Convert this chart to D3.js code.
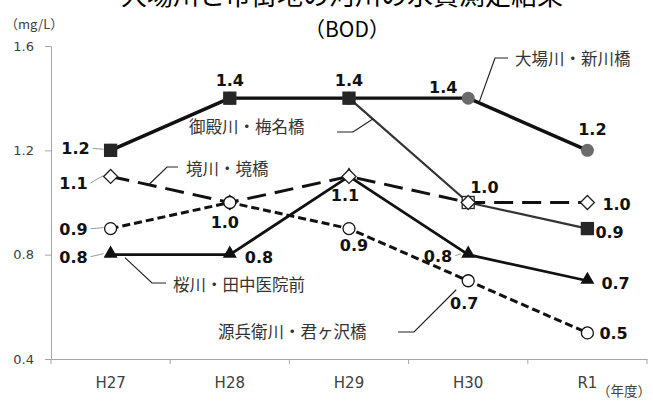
<!DOCTYPE html>
<html><head><meta charset="utf-8">
<script src="https://cdn.jsdelivr.net/npm/d3@7"></script>
<style>html,body{margin:0;padding:0;background:#fff;} svg{display:block;}</style>
</head><body>
<svg id="chart" width="653" height="401"></svg>
<script>
// ---------- data ----------
const categories = ["H27", "H28", "H29", "H30", "R1"];
const seriesNames = ["大場川・新川橋", "御殿川・梅名橋", "境川・境橋", "源兵衛川・君ヶ沢橋", "桜川・田中医院前"];
const obaValues    = [1.2, 1.4, 1.4, 1.4, 1.2];
const gotenValues  = [1.2, 1.4, 1.4, 1.0, 0.9];
const sakaiValues  = [1.1, 1.0, 1.1, 1.0, 1.0];
const genbeiValues = [0.9, 1.0, 0.9, 0.7, 0.5];
const sakuraValues = [0.8, 0.8, 1.1, 0.8, 0.7];
const yTicks = [0.4, 0.8, 1.2, 1.6];
const titleLines = ["大場川と市街地の河川の水質測定結果", "（BOD）"];
const yUnit = "（mg/L）";
const xUnit = "（年度）";

const seriesValues = [obaValues, gotenValues, sakaiValues, genbeiValues, sakuraValues];

// ---------- styles ----------
const styles = [
  {line:"#111", width:3.4, dash:null,   marker:"circle",   fill:"#6b6b6b", stroke:"none"},
  {line:"#333", width:2.2, dash:null,   marker:"square",   fill:"#262626", stroke:"#262626"},
  {line:"#111", width:3,   dash:"19,9", marker:"diamond",  fill:"#fff",    stroke:"#222"},
  {line:"#111", width:3,   dash:"8,4",  marker:"ocircle",  fill:"#fff",    stroke:"#111"},
  {line:"#111", width:2.8, dash:null,   marker:"triangle", fill:"#111",    stroke:"none"}
];
const lineOrder = [1, 0, 2, 3, 4];
const markerOrder = [0, 1, 4, 2, 3];

const svg = d3.select("#chart");
const x = d3.scaleBand().domain(categories).range([51, 647]).padding(0);
const y = d3.scaleLinear().domain([0.4, 1.6]).range([359, 46]);
const px = c => x(c) + x.bandwidth() / 2;

const numFont = "'DejaVu Sans', Verdana, sans-serif";
const cjkFont = "'Noto Sans CJK JP', 'Noto Sans', sans-serif";

// ---------- title ----------
svg.append("text").attr("x", 342).attr("y", 5).attr("text-anchor", "middle")
  .style("font-family", cjkFont).style("font-size", "26px").attr("fill", "#000").text(titleLines[0]);
svg.append("text").attr("x", 347).attr("y", 37).attr("text-anchor", "middle")
  .style("font-family", cjkFont).style("font-size", "21px").attr("fill", "#000").text(titleLines[1]);

svg.append("text").attr("x", 5).attr("y", 29)
  .style("font-family", cjkFont).style("font-size", "13px").attr("fill", "#404040").text(yUnit);

// ---------- axes ----------
const axisColor = "#a6a6a6";
const yAxis = svg.append("g").attr("transform", "translate(51,0)")
  .call(d3.axisLeft(y).tickValues(yTicks).tickFormat(d3.format(".1f")).tickSize(6).tickSizeOuter(0).tickPadding(11));
yAxis.select(".domain").attr("stroke", axisColor);
yAxis.selectAll(".tick line").attr("stroke", axisColor);
yAxis.selectAll(".tick text").style("font-family", numFont).style("font-size", "13px").attr("fill", "#404040");

const xAxis = svg.append("g").attr("transform", "translate(0,359)")
  .call(d3.axisBottom(x).tickSize(0).tickSizeOuter(0).tickPadding(18));
xAxis.select(".domain").attr("stroke", axisColor);
xAxis.selectAll(".tick text").style("font-family", numFont).style("font-size", "15px").attr("fill", "#404040");
const bounds = categories.map(c => x(c)).concat([x(categories[categories.length - 1]) + x.bandwidth()]);
svg.append("g").selectAll("line").data(bounds).join("line")
  .attr("x1", d => d).attr("x2", d => d).attr("y1", 359).attr("y2", 364)
  .attr("stroke", axisColor);

svg.append("text").attr("x", 597).attr("y", 396)
  .style("font-family", cjkFont).style("font-size", "13.5px").attr("fill", "#404040").text(xUnit);

// ---------- lines ----------
const lineGen = d3.line().x((d, i) => px(categories[i])).y(d => y(d));
const gLines = svg.append("g");
lineOrder.forEach(s => {
  const st = styles[s];
  gLines.append("path").datum(seriesValues[s])
    .attr("d", lineGen).attr("fill", "none")
    .attr("stroke", st.line).attr("stroke-width", st.width)
    .attr("stroke-dasharray", st.dash).attr("stroke-linejoin", "round");
});

// ---------- markers ----------
const gMarkers = svg.append("g");
markerOrder.forEach(s => {
  const st = styles[s];
  seriesValues[s].forEach((v, i) => {
    const cx = px(categories[i]), cy = y(v);
    let el;
    if (st.marker === "circle" || st.marker === "ocircle") {
      el = gMarkers.append("circle").attr("cx", cx).attr("cy", cy).attr("r", st.marker === "circle" ? 6.5 : 6);
    } else if (st.marker === "square") {
      el = gMarkers.append("rect").attr("x", cx - 6).attr("y", cy - 6).attr("width", 12).attr("height", 12);
    } else if (st.marker === "diamond") {
      el = gMarkers.append("path").attr("d", `M${cx},${cy-7}L${cx+7},${cy}L${cx},${cy+7}L${cx-7},${cy}Z`);
    } else {
      el = gMarkers.append("path").attr("d", d3.symbol().type(d3.symbolTriangle).size(85)()).attr("transform", `translate(${cx},${cy - 1})`);
    }
    let fill = st.fill;
    if (s === 1 && i === 3) fill = "#fff"; // open square at H30
    el.attr("fill", fill).attr("stroke", st.stroke).attr("stroke-width", 1.3);
  });
});

// ---------- data labels ----------
const labelSpec = [
  {s:0,i:0,a:"end",dx:-21,dy:4,lead:true},
  {s:0,i:1,a:"middle",dx:0,dy:-12},
  {s:0,i:2,a:"middle",dx:0,dy:-12},
  {s:0,i:3,a:"middle",dx:-25,dy:-5.5},
  {s:0,i:4,a:"middle",dx:5,dy:-15},
  {s:1,i:3,a:"start",dx:2,dy:-9.5},
  {s:1,i:4,a:"start",dx:8,dy:9},
  {s:2,i:0,a:"end",dx:-23,dy:12.5,lead:true},
  {s:2,i:2,a:"middle",dx:-4,dy:24.5},
  {s:2,i:4,a:"start",dx:15,dy:7.3},
  {s:3,i:0,a:"end",dx:-23,dy:6.2,lead:true},
  {s:3,i:1,a:"middle",dx:-5,dy:25.3},
  {s:3,i:2,a:"middle",dx:5,dy:22.2},
  {s:3,i:3,a:"middle",dx:-4,dy:28},
  {s:3,i:4,a:"start",dx:12,dy:5.6},
  {s:4,i:0,a:"end",dx:-23,dy:8,lead:true},
  {s:4,i:1,a:"start",dx:15,dy:8},
  {s:4,i:3,a:"end",dx:-16,dy:7,lead:true},
  {s:4,i:4,a:"start",dx:14,dy:8}
];
const gLab = svg.append("g");
labelSpec.forEach(L => {
  const v = seriesValues[L.s][L.i];
  const cx = px(categories[L.i]), cy = y(v);
  if (L.lead) {
    gLab.append("line").attr("x1", cx + L.dx + 3).attr("y1", cy + L.dy - 6)
      .attr("x2", cx - 7).attr("y2", cy - 1).attr("stroke", "#9a9a9a").attr("stroke-width", 1);
  }
  gLab.append("text").attr("x", cx + L.dx).attr("y", cy + L.dy).attr("text-anchor", L.a)
    .style("font-family", numFont).style("font-size", "16px").style("font-weight", "bold")
    .attr("fill", "#111").text(d3.format(".1f")(v));
});

// ---------- series name labels ----------
const nameSpec = [
  {s:0, tx:515, ty:65,  start:[508,58],  elbow:[495,58],  seg:3, t:0.09, ox:0,   oy:0},
  {s:1, tx:189, ty:133, start:[337,132], elbow:[353,132], seg:2, t:0.2,  ox:0,   oy:0},
  {s:2, tx:186, ty:175, start:[178,167], elbow:[167,167], seg:0, t:0.32, ox:0,   oy:0},
  {s:4, tx:173, ty:291, start:[166,283], elbow:[152,283], seg:0, t:0.12, ox:0,   oy:3},
  {s:3, tx:218, ty:338, start:[398,332], elbow:[414,332], seg:3, t:0,    ox:-12, oy:9}
];
const gNames = svg.append("g");
nameSpec.forEach(N => {
  const vals = seriesValues[N.s];
  const x0 = px(categories[N.seg]), x1 = px(categories[N.seg + 1]);
  const y0 = y(vals[N.seg]), y1 = y(vals[N.seg + 1]);
  const tip = [x0 + (x1 - x0) * N.t + N.ox, y0 + (y1 - y0) * N.t + N.oy];
  gNames.append("polyline").attr("points", [N.start, N.elbow, tip].map(p => p.join(",")).join(" "))
    .attr("fill", "none").attr("stroke", "#222").attr("stroke-width", 1.2);
  gNames.append("text").attr("x", N.tx).attr("y", N.ty)
    .style("font-family", cjkFont).style("font-size", "16.5px").attr("fill", "#333").text(seriesNames[N.s]);
});
</script>
</body></html>
